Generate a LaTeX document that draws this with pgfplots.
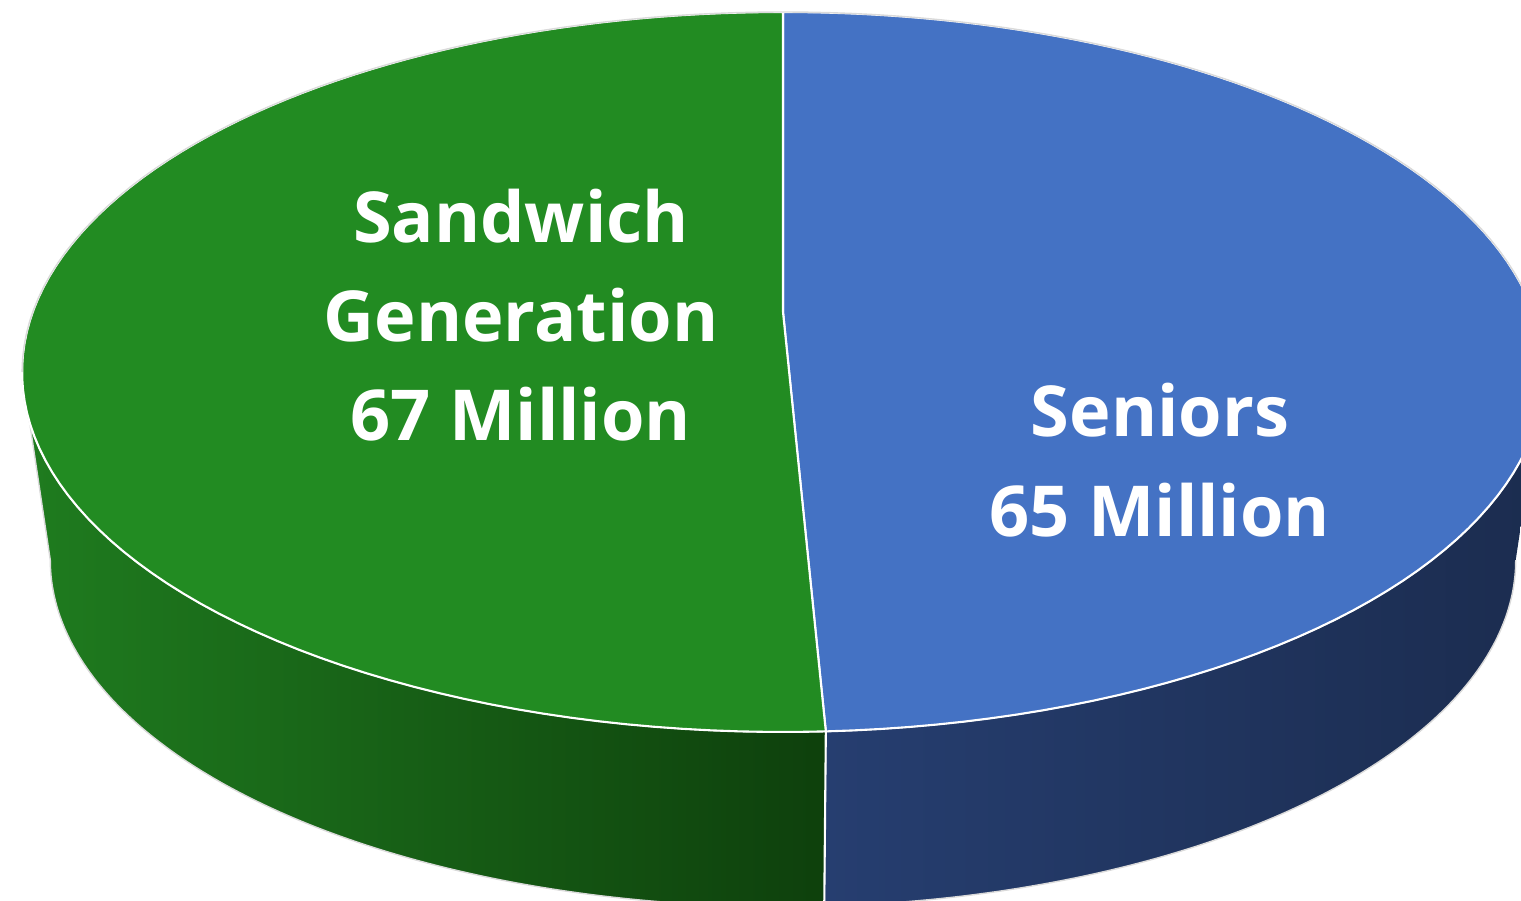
\documentclass[border=0pt]{standalone}
\usepackage{fontspec}
\setmainfont{Open Sans}
\usepackage{pgfplots}
\pgfplotsset{compat=1.18}
\definecolor{topBlue}{HTML}{4472C4}
\definecolor{topGreen}{HTML}{228B22}
\definecolor{sideBlueL}{HTML}{263E70}
\definecolor{sideBlueR}{HTML}{1B2C4F}
\definecolor{sideGreenL}{HTML}{1F7C1F}
\definecolor{sideGreenR}{HTML}{0E400C}
\definecolor{rim}{HTML}{DADADA}
\begin{document}
\begin{tikzpicture}
\def\valSeniors{65}
\def\valSandwich{67}
\pgfmathsetmacro{\Ts}{360/(\valSeniors+\valSandwich)*\valSeniors}
\begin{axis}[width=15.21cm,height=9.01cm,scale only axis,
  xmin=0,xmax=1521,ymin=0,ymax=901,hide axis,clip=true,
  declare function={
    px(\t,\r)=783+750.3*\r*sin(\t)/(1+\r*cos(\t)/6);
    py(\t,\r)=529+(360*\r*cos(\t)+60)/(1+\r*cos(\t)/6);
    bx(\t)=783+722.5*sin(\t)/(1+cos(\t)/6);
    by(\t)=341+0.963*(360*cos(\t)+60)/(1+cos(\t)/6);
    tf(\n,\a,\b)=ifthenelse(\n<100.5,\a+\n/100*(\b-\a),\a);
    rf(\n)=ifthenelse(abs(\n-101)<0.5,0,1);
    tb(\n,\a,\b)=\a+(201-\n)/100*(\b-\a);
    sx(\n,\a,\b)=ifthenelse(\n<100.5,px(tf(\n,\a,\b),1),bx(tb(\n,\a,\b)));
    sy(\n,\a,\b)=ifthenelse(\n<100.5,py(tf(\n,\a,\b),1),by(tb(\n,\a,\b)));
  }]
% sides (front, visible part of each slice, up to the silhouette)
\addplot[draw=rim,line width=0.4pt,left color=sideBlueL,right color=sideBlueR,
  samples at={0,1,...,201}] ({sx(x,99.6,\Ts)},{sy(x,99.6,\Ts)});
\addplot[draw=rim,line width=0.4pt,left color=sideGreenL,right color=sideGreenR,
  samples at={0,1,...,201}] ({sx(x,\Ts,260.4)},{sy(x,\Ts,260.4)});
% seam on the side
\addplot[white,line width=0.6pt,samples at={0,1}]
  ({ifthenelse(x<0.5,px(\Ts,1),bx(\Ts))},{ifthenelse(x<0.5,py(\Ts,1),by(\Ts))});
% top faces
\addplot[fill=topBlue,draw=white,line width=0.6pt,samples at={0,1,...,102}]
  ({px(tf(x,0,\Ts),rf(x))},{py(tf(x,0,\Ts),rf(x))});
\addplot[fill=topGreen,draw=white,line width=0.6pt,samples at={0,1,...,102}]
  ({px(tf(x,\Ts,360),rf(x))},{py(tf(x,\Ts,360),rf(x))});
% light rim round the back of the top face
\addplot[rim,line width=0.4pt,samples at={0,1,...,100}]
  ({px(260.4+x/100*199.2,1)},{py(260.4+x/100*199.2,1)});
% labels
\tikzset{lab/.style={anchor=base,text=white,inner sep=0pt,font=\bfseries\fontsize{20}{24}\selectfont}}
\node[lab] at (axis cs:521,658) {Sandwich};
\node[lab] at (axis cs:521,559) {Generation};
\node[lab] at (axis cs:521,460) {\valSandwich{} Million};
\node[lab] at (axis cs:1160,464) {Seniors};
\node[lab] at (axis cs:1160,364) {\valSeniors{} Million};
\end{axis}
\pgfresetboundingbox
\path (current axis.south west) rectangle (current axis.north east);
\end{tikzpicture}
\end{document}
